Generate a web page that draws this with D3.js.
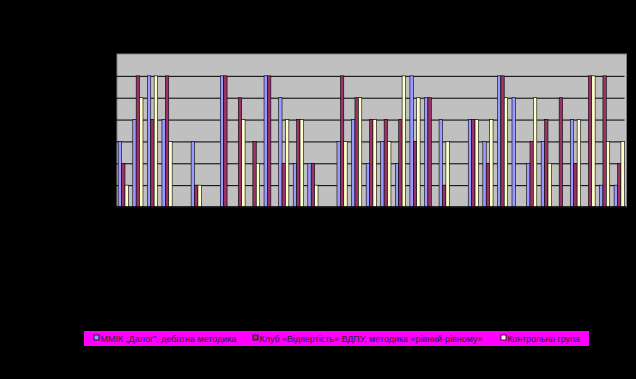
<!DOCTYPE html>
<html>
<head>
<meta charset="utf-8">
<script src="https://cdn.jsdelivr.net/npm/d3@7"></script>
<style>
  body { margin: 0; background: #000; }
  svg { display: block; }
</style>
</head>
<body>
<div id="chart"></div>
<script>
// values, one per category (35 categories)
const categories = d3.range(1, 36).map(String);
const seriesNames = [
  'ММІК „Далог”, дебатна методика',
  'Клуб «Відвертість» ВДПУ, методика «рівний-рівному»',
  'Контрольна група'
];
const dialog = [3, 4, 6, 4, 0, 3, 0, 6, 0, 0, 6, 5, 2, 2, 0, 3, 4, 2, 3, 2, 6, 5, 4, 0, 4, 3, 6, 5, 2, 3, 0, 4, 0, 1, 1];
const club   = [2, 6, 4, 6, 0, 1, 0, 6, 5, 3, 6, 2, 4, 2, 0, 6, 5, 4, 4, 4, 3, 5, 1, 0, 4, 2, 6, 0, 3, 4, 5, 2, 6, 6, 2];
const control = [1, 5, 6, 3, 0, 1, 0, 0, 4, 2, 0, 4, 4, 1, 0, 3, 5, 4, 3, 6, 5, 0, 3, 0, 4, 4, 5, 0, 5, 2, 0, 4, 6, 3, 3];
const yTicks = [0, 1, 2, 3, 4, 5, 6, 7];

const colors = ['#9999FF', '#993366', '#FFFFCC'];
const series = [dialog, club, control];

const width = 636, height = 379;
const plot = { left: 116, right: 626.5, top: 54, bottom: 207 };

const svg = d3.select('#chart')
  .append('svg')
  .attr('width', width)
  .attr('height', height);

svg.append('rect')
  .attr('width', width)
  .attr('height', height)
  .attr('fill', '#000');

const x0 = d3.scaleBand()
  .domain(categories)
  .range([plot.left, plot.right]);

const barW = 3.4;
const gap = x0.step() - barW * 3;

const x1 = d3.scaleBand()
  .domain(d3.range(3))
  .range([gap / 2, gap / 2 + barW * 3]);

const y = d3.scaleLinear()
  .domain([0, 7])
  .range([plot.bottom, plot.top]);

// plot area
svg.append('rect')
  .attr('x', plot.left + 1)
  .attr('y', plot.top)
  .attr('width', plot.right - plot.left - 1)
  .attr('height', plot.bottom - plot.top)
  .attr('fill', '#C0C0C0')
  .attr('stroke', '#808080')
  .attr('stroke-width', 1);

// gridlines
svg.append('g')
  .attr('transform', `translate(${plot.left},0)`)
  .call(d3.axisLeft(y).tickValues(yTicks.slice(1, -1)).tickSize(-(plot.right - plot.left - 2)).tickFormat(''))
  .call(g => g.select('.domain').remove())
  .selectAll('line')
  .attr('stroke', '#000')
  .attr('stroke-width', 1);

// bars
const groups = svg.append('g')
  .selectAll('g')
  .data(categories)
  .enter()
  .append('g')
  .attr('transform', d => `translate(${x0(d)},0)`);

groups.selectAll('rect')
  .data((d, i) => series.map((s, k) => ({ k: k, v: s[i] })).filter(e => e.v > 0))
  .enter()
  .append('rect')
  .attr('x', d => x1(d.k))
  .attr('y', d => y(d.v))
  .attr('width', x1.bandwidth())
  .attr('height', d => y(0) - y(d.v))
  .attr('fill', d => colors[d.k])
  .attr('stroke', '#000')
  .attr('stroke-width', 0.6);

// bottom axis line
svg.append('line')
  .attr('x1', plot.left)
  .attr('x2', plot.right)
  .attr('y1', y(0))
  .attr('y2', y(0))
  .attr('stroke', '#000')
  .attr('stroke-width', 1.5);

// legend
const legend = svg.append('g');
legend.append('rect')
  .attr('x', 84)
  .attr('y', 331)
  .attr('width', 505)
  .attr('height', 15)
  .attr('fill', '#FF00FF');

const legendX = [94, 253, 501];
const legendW = [136, 223, 72];
const items = legend.selectAll('.item')
  .data(seriesNames)
  .enter()
  .append('g')
  .attr('class', 'item')
  .attr('transform', (d, i) => `translate(${legendX[i]},335)`);

items.append('rect')
  .attr('width', 5)
  .attr('height', 5)
  .attr('fill', (d, i) => colors[i])
  .attr('stroke', '#000')
  .attr('stroke-width', 0.8);

items.append('text')
  .attr('x', 6.5)
  .attr('y', 6.5)
  .attr('font-family', '"Liberation Sans", Arial, sans-serif')
  .attr('font-size', '9px')
  .attr('fill', '#1a1a1a')
  .attr('textLength', (d, i) => legendW[i])
  .attr('lengthAdjust', 'spacingAndGlyphs')
  .text(d => d);
</script>
</body>
</html>
